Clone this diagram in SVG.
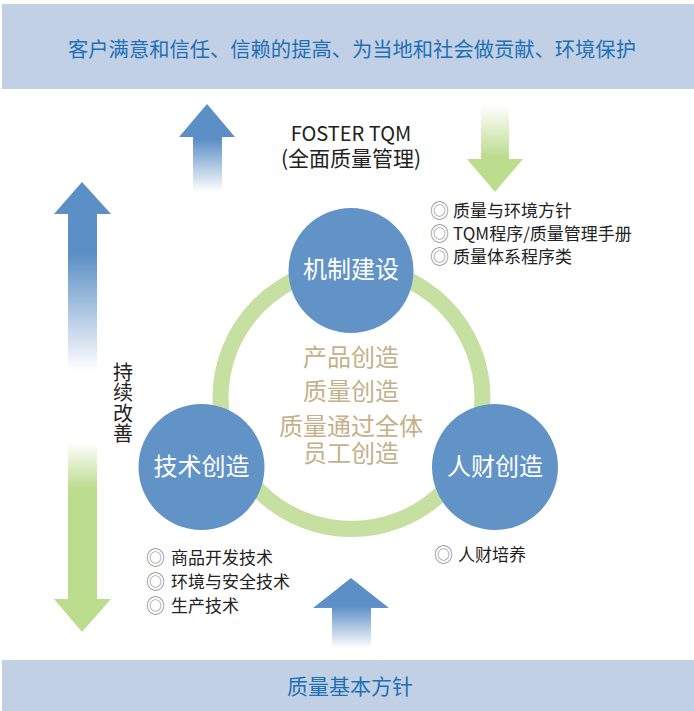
<svg xmlns="http://www.w3.org/2000/svg" width="694" height="711" viewBox="0 0 694 711">
<style>
text{font-family:"Noto Sans CJK SC","Noto Sans",sans-serif}
.banner{fill:#c2d0e6}
.btxt{fill:#1e6fb4;font-size:20px;text-anchor:middle}
.node{fill:#6193c6}
.ntxt{fill:#ffffff;font-size:24px;text-anchor:middle}
.ctxt{fill:#c4b18a;font-size:24px;text-anchor:middle}
.item{fill:#222222;font-size:17px}
.bul{fill:#8a8a8a;font-size:19px}
.dark{fill:#222222;text-anchor:middle}
</style>
<defs>
<linearGradient id="gUp" x1="0" y1="0" x2="0" y2="1">
<stop offset="0" stop-color="#5b8fc6"/>
<stop offset="0.4" stop-color="#5b8fc6"/>
<stop offset="1" stop-color="#5b8fc6" stop-opacity="0"/>
</linearGradient>
<linearGradient id="gDown" x1="0" y1="0" x2="0" y2="1">
<stop offset="0" stop-color="#bcdc8e" stop-opacity="0"/>
<stop offset="0.6" stop-color="#bcdc8e"/>
<stop offset="1" stop-color="#bcdc8e"/>
</linearGradient>
<linearGradient id="gBoth" gradientUnits="userSpaceOnUse" x1="0" y1="182" x2="0" y2="632">
<stop offset="0" stop-color="#5b8fc6"/>
<stop offset="0.16" stop-color="#5b8fc6"/>
<stop offset="0.42" stop-color="#5b8fc6" stop-opacity="0"/>
<stop offset="0.58" stop-color="#bcdc8e" stop-opacity="0"/>
<stop offset="0.68" stop-color="#bcdc8e"/>
<stop offset="1" stop-color="#bcdc8e"/>
</linearGradient>
</defs>

<g id="top-banner">
<rect class="banner" x="2" y="4" width="692" height="85"/>
<text class="btxt" x="352" y="57" style="font-size:20.3px">客户满意和信任、信赖的提高、为当地和社会做贡献、环境保护</text>
</g>

<g id="bottom-banner">
<rect class="banner" x="2" y="660" width="692" height="51"/>
<text class="btxt" x="350" y="694" style="font-size:21px">质量基本方针</text>
</g>

<g id="connectors">
<polygon fill="url(#gUp)" points="207,104 235,137 222,137 222,192 193,192 193,137 179,137"/>
<polygon fill="url(#gDown)" points="481,105 509,105 509,159 523,159 495,192 467,159 481,159"/>
<polygon fill="url(#gUp)" points="351,578 389,608 371,608 371,648 332,648 332,608 313,608"/>
<polygon fill="url(#gBoth)" points="82,182 111,214 97,214 97,599 111,599 82,632 54,599 68,599 68,214 54,214"/>
</g>

<g id="tqm-label">
<text class="dark" x="351" y="141" style="font-size:20px">FOSTER TQM<tspan x="351" y="166" style="font-size:21px">(全面质量管理)</tspan></text>
</g>

<g id="improve-label">
<text x="123" y="362" style="font-size:20px;fill:#222222;writing-mode:vertical-rl;letter-spacing:0.5px">持续改善</text>
</g>

<g id="ring">
<circle cx="351.5" cy="398" r="131" fill="none" stroke="#c5e0a0" stroke-width="16"/>
</g>

<g id="center-text">
<text class="ctxt" x="351" y="366">产品创造<tspan x="351" y="400">质量创造</tspan><tspan x="351" y="435">质量通过全体</tspan><tspan x="351" y="462">员工创造</tspan></text>
</g>

<g id="node-mechanism">
<circle class="node" cx="351" cy="270.5" r="62.5"/>
<text class="ntxt" x="351" y="278">机制建设</text>
</g>

<g id="node-tech">
<circle class="node" cx="201.5" cy="467" r="63"/>
<text class="ntxt" x="201.5" y="475">技术创造</text>
</g>

<g id="node-people">
<circle class="node" cx="495" cy="467" r="63"/>
<text class="ntxt" x="495" y="475">人财创造</text>
</g>

<g id="list-mechanism">
<text class="item" x="430" y="217"><tspan class="bul" y="218">◎</tspan><tspan x="453" y="217">质量与环境方针</tspan><tspan class="bul" x="430" y="241">◎</tspan><tspan x="453" y="240">TQM程序/质量管理手册</tspan><tspan class="bul" x="430" y="264">◎</tspan><tspan x="453" y="263">质量体系程序类</tspan></text>
</g>

<g id="list-tech">
<text class="item" x="146" y="564"><tspan class="bul" y="565">◎</tspan><tspan x="171" y="564">商品开发技术</tspan><tspan class="bul" x="146" y="589">◎</tspan><tspan x="171" y="588">环境与安全技术</tspan><tspan class="bul" x="146" y="613">◎</tspan><tspan x="171" y="612">生产技术</tspan></text>
</g>

<g id="list-people">
<text class="item" x="434" y="561"><tspan class="bul" y="562">◎</tspan><tspan x="458" y="561">人财培养</tspan></text>
</g>
</svg>
